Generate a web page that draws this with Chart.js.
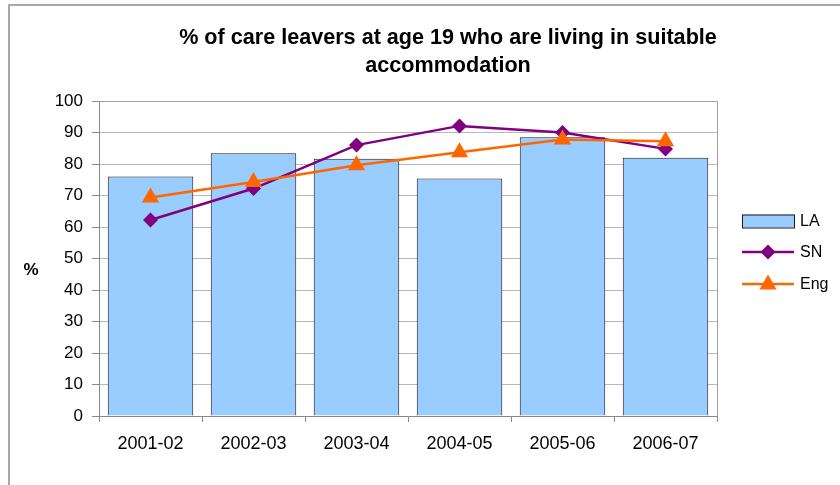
<!DOCTYPE html>
<html>
<head>
<meta charset="utf-8">
<script src="https://cdn.jsdelivr.net/npm/chart.js@4/dist/chart.umd.min.js"></script>
<style>
  html, body { margin: 0; padding: 0; background: #ffffff; }
  #wrap { width: 840px; height: 485px; }
</style>
</head>
<body>
<div id="wrap"><canvas id="c" width="840" height="485"></canvas></div>
<script>
// Academic years on the category axis
const categories = ['2001-02', '2002-03', '2003-04', '2004-05', '2005-06', '2006-07'];

// Series names
const seriesNames = ['LA', 'SN', 'Eng'];

// % of care leavers at age 19 living in suitable accommodation
const laValues  = [76.0, 83.4, 81.7, 75.4, 88.5, 82.0];
const snValues  = [62.2, 72.2, 86.0, 92.1, 90.0, 84.8];
const engValues = [69.4, 74.3, 79.6, 83.7, 87.8, 87.2];

// Value axis
const yMin = 0, yMax = 100, yStep = 10;

const titleLines = ['% of care leavers at age 19 who are living in suitable', 'accommodation'];
const yAxisLabel = '%';

const FONT = '"Liberation Sans", Arial, sans-serif';
const BAR_FILL = '#99CCFF';
const BAR_EDGE = '#1a1a1a';
const SN_COLOR = '#800080';
const ENG_COLOR = '#FF6600';

// Frame, plot border, title, legend and the horizontal "%" label
const decor = {
  id: 'decor',
  beforeDraw(chart) {
    const ctx = chart.ctx;
    ctx.save();
    ctx.fillStyle = '#ffffff';
    ctx.fillRect(0, 0, chart.width, chart.height);
    ctx.strokeStyle = '#a8a8a8';
    ctx.lineWidth = 2;
    ctx.strokeRect(9, 5, chart.width + 40, chart.height + 40);
    ctx.restore();
  },
  beforeDatasetsDraw(chart) {
    const { ctx, chartArea: a } = chart;
    ctx.save();
    ctx.strokeStyle = '#a0a0a0';
    ctx.lineWidth = 1;
    ctx.beginPath();
    ctx.moveTo(a.left, a.top + 0.5);
    ctx.lineTo(a.right + 0.5, a.top + 0.5);
    ctx.lineTo(a.right + 0.5, a.bottom);
    ctx.stroke();
    ctx.restore();
  },
  afterDraw(chart) {
    const ctx = chart.ctx;
    ctx.save();
    // title
    ctx.fillStyle = '#000000';
    ctx.font = 'bold 21.6px ' + FONT;
    ctx.textAlign = 'center';
    ctx.textBaseline = 'alphabetic';
    ctx.fillText(titleLines[0], 448, 44);
    ctx.fillText(titleLines[1], 448, 72);

    // axis label
    ctx.font = 'bold 17px ' + FONT;
    ctx.textAlign = 'center';
    ctx.textBaseline = 'middle';
    ctx.fillText(yAxisLabel, 31, 270);

    // legend
    const keyL = 742, keyR = 794, textX = 800;
    const rows = [221, 252, 284];
    ctx.font = '16px ' + FONT;
    ctx.textAlign = 'left';
    ctx.textBaseline = 'middle';

    ctx.fillStyle = BAR_FILL;
    ctx.fillRect(keyL, rows[0] - 6.5, keyR - keyL, 13);
    ctx.strokeStyle = BAR_EDGE;
    ctx.lineWidth = 1;
    ctx.strokeRect(keyL + 0.5, rows[0] - 6.5 + 0.5, keyR - keyL, 13);

    const cx = (keyL + keyR) / 2;
    ctx.lineWidth = 2.5;
    ctx.strokeStyle = SN_COLOR;
    ctx.beginPath(); ctx.moveTo(keyL, rows[1]); ctx.lineTo(keyR, rows[1]); ctx.stroke();
    ctx.fillStyle = SN_COLOR;
    ctx.beginPath();
    ctx.moveTo(cx - 7.5, rows[1]); ctx.lineTo(cx, rows[1] - 7.5);
    ctx.lineTo(cx + 7.5, rows[1]); ctx.lineTo(cx, rows[1] + 7.5);
    ctx.closePath(); ctx.fill();

    ctx.strokeStyle = ENG_COLOR;
    ctx.beginPath(); ctx.moveTo(keyL, rows[2]); ctx.lineTo(keyR, rows[2]); ctx.stroke();
    ctx.fillStyle = ENG_COLOR;
    ctx.beginPath();
    ctx.moveTo(cx, rows[2] - 9.5); ctx.lineTo(cx + 8.5, rows[2] + 5.5); ctx.lineTo(cx - 8.5, rows[2] + 5.5);
    ctx.closePath(); ctx.fill();

    ctx.fillStyle = '#000000';
    seriesNames.forEach((n, i) => ctx.fillText(n, textX, rows[i] + 1));
    ctx.restore();
  }
};

new Chart(document.getElementById('c'), {
  data: {
    labels: categories,
    datasets: [
      {
        type: 'bar', label: seriesNames[0], data: laValues, order: 2,
        backgroundColor: BAR_FILL, borderColor: BAR_EDGE, borderWidth: 1,
        barPercentage: 0.83, categoryPercentage: 1.0
      },
      {
        type: 'line', label: seriesNames[1], data: snValues, order: 1,
        borderColor: SN_COLOR, backgroundColor: SN_COLOR, borderWidth: 2.5,
        pointStyle: 'rectRot', pointRadius: 7.5, pointBorderWidth: 0,
        pointBackgroundColor: SN_COLOR, tension: 0, fill: false
      },
      {
        type: 'line', label: seriesNames[2], data: engValues, order: 0,
        borderColor: ENG_COLOR, backgroundColor: ENG_COLOR, borderWidth: 2.5,
        pointStyle: 'triangle', pointRadius: 10, pointBorderWidth: 0,
        pointBackgroundColor: ENG_COLOR, tension: 0, fill: false
      }
    ]
  },
  options: {
    responsive: false,
    animation: false,
    devicePixelRatio: 1,
    layout: { padding: { left: 0, top: 101, right: 123, bottom: 0 } },
    plugins: { legend: { display: false }, title: { display: false }, tooltip: { enabled: false } },
    scales: {
      x: {
        offset: true,
        grid: { offset: true, drawOnChartArea: false, drawTicks: true, tickLength: 6, tickColor: '#8a8a8a' },
        border: { display: true, color: '#8a8a8a', width: 1 },
        ticks: { color: '#000000', font: { family: FONT, size: 18 }, padding: 11, maxRotation: 0 },
        afterFit(scale) { scale.height = 69; }
      },
      y: {
        min: yMin, max: yMax,
        grid: { color: '#b8b8b8', lineWidth: 1, drawTicks: true, tickLength: 7, tickColor: '#8a8a8a' },
        border: { display: true, color: '#8a8a8a', width: 1 },
        ticks: { stepSize: yStep, color: '#000000', font: { family: FONT, size: 17 }, padding: 9 },
        afterFit(scale) { scale.width = 99; }
      }
    }
  },
  plugins: [decor]
});
</script>
</body>
</html>
